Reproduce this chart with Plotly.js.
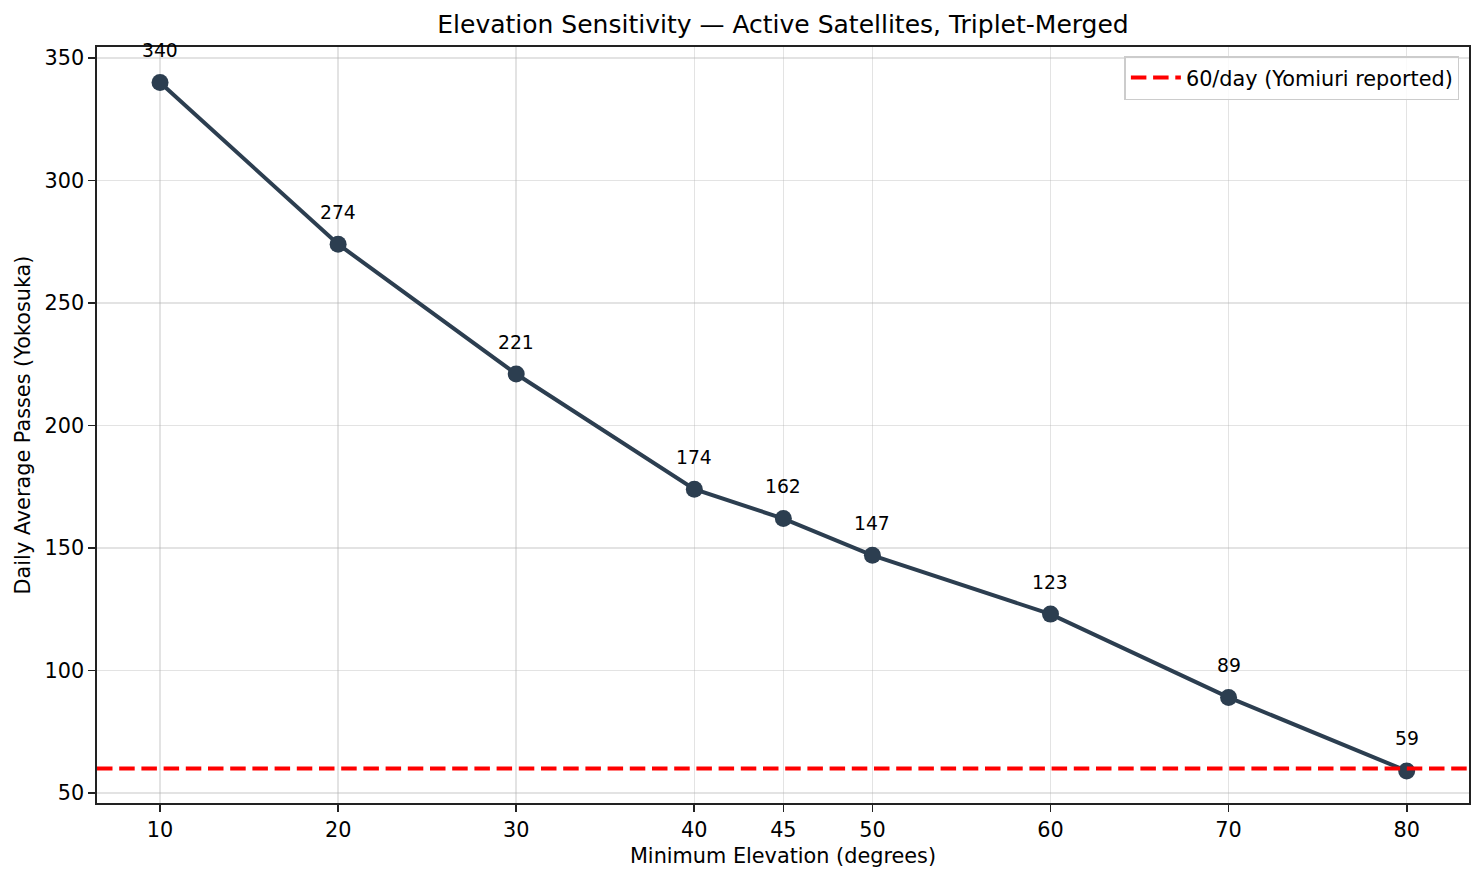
<!DOCTYPE html>
<html>
<head>
<meta charset="utf-8">
<script src="https://cdn.plot.ly/plotly-3.0.1.min.js"></script>
<style>html,body{margin:0;padding:0;background:#fff;}#chart{width:1484px;height:881px;}</style>
</head>
<body>
<div id="chart"></div>
<script>
const elevations = [10, 20, 30, 40, 45, 50, 60, 70, 80];
const passes = [340, 274, 221, 174, 162, 147, 123, 89, 59];
const referenceValue = 60;
const referenceLabel = '60/day (Yomiuri reported)';
const xTicks = [10, 20, 30, 40, 45, 50, 60, 70, 80];
const yTicks = [50, 100, 150, 200, 250, 300, 350];

const font = 'DejaVu Sans, sans-serif';
const xRange = [6.46, 83.5];

const traces = [
  {
    x: elevations, y: passes, mode: 'lines+markers', type: 'scatter',
    line: {color: '#2c3e50', width: 4},
    marker: {color: '#2c3e50', size: 17},
    showlegend: false, hoverinfo: 'x+y'
  },
  {
    x: xRange, y: [referenceValue, referenceValue], mode: 'lines', type: 'scatter',
    line: {color: '#ff0000', width: 4, dash: '15.5px,6.7px'},
    name: referenceLabel, showlegend: true
  }
];

const annotations = elevations.map((e, i) => ({
  x: e, y: passes[i], xref: 'x', yref: 'y', text: String(passes[i]),
  showarrow: false, yshift: 32, font: {family: font, size: 18.75, color: '#000'}
}));

const layout = {
  width: 1484, height: 881,
  margin: {l: 97, r: 15, t: 47, b: 78},
  paper_bgcolor: '#fff', plot_bgcolor: '#fff',
  font: {family: font, size: 20.8, color: '#000'},
  title: {text: 'Elevation Sensitivity — Active Satellites, Triplet-Merged', font: {family: font, size: 25}, x: 0.5, xanchor: 'center', xref: 'paper', y: 0.973, yanchor: 'middle'},
  xaxis: {
    range: xRange, tickvals: xTicks, ticktext: xTicks.map(String),
    showgrid: true, gridcolor: 'rgba(176,176,176,0.35)', gridwidth: 1.6,
    zeroline: false, showline: true, linecolor: '#222', linewidth: 1.7, mirror: true,
    ticks: 'outside', ticklen: 7, tickwidth: 1.7, tickcolor: '#222', tickfont: {size: 20.8},
    title: {text: 'Minimum Elevation (degrees)', font: {size: 20.8}, standoff: 8}
  },
  yaxis: {
    range: [45.9, 354.5], tickvals: yTicks, ticktext: yTicks.map(String),
    showgrid: true, gridcolor: 'rgba(176,176,176,0.35)', gridwidth: 1.6,
    zeroline: false, showline: true, linecolor: '#222', linewidth: 1.7, mirror: true,
    ticks: 'outside', ticklen: 7, tickwidth: 1.7, tickcolor: '#222', tickfont: {size: 20.8},
    title: {text: 'Daily Average Passes (Yokosuka)', font: {size: 20.8}, standoff: 8}
  },
  legend: {
    x: 0.993, y: 0.988, xanchor: 'right', yanchor: 'top',
    bgcolor: 'rgba(255,255,255,0.8)', bordercolor: '#cccccc', borderwidth: 1.5,
    font: {size: 20.8}, itemwidth: 50
  },
  annotations: annotations
};

Plotly.newPlot('chart', traces, layout, {displayModeBar: false, staticPlot: true});
</script>
</body>
</html>
